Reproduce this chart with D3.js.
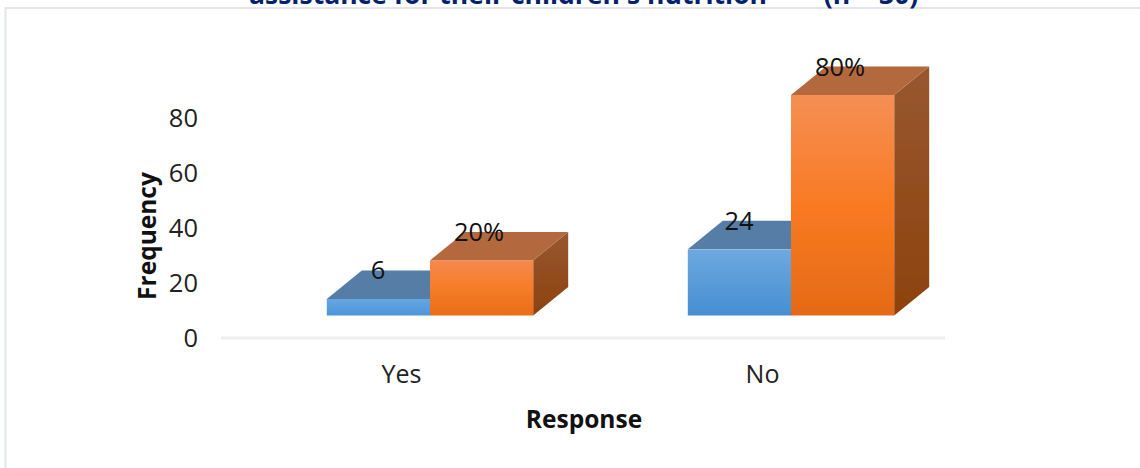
<!DOCTYPE html>
<html><head><meta charset="utf-8">
<script src="https://cdn.jsdelivr.net/npm/d3@7"></script>
<style>html,body{margin:0;padding:0;background:#fff}svg{display:block}text{font-family:"Open Sans",sans-serif}</style>
</head><body><svg id="c" width="1140" height="468"></svg>
<script>
const categories = ["Yes", "No"];
const frequency = [6, 24];
const percent = [20, 80];
const frequencyLabels = ["6", "24"];
const percentLabels = ["20%", "80%"];
const yTicks = [0, 20, 40, 60, 80];
const titleText = "assistance for their children's nutrition";
const titleN = "(n = 30)";

const svg = d3.select("#c");
const W = 1140, H = 468;
const x = d3.scaleBand().domain(categories).range([221, 943]);
const y = d3.scaleLinear().domain([0, 80]).range([338, 117.5]);
const floorDy = -22.5, depthX = 35, depthY = -28.5, barW = 103.2, groupDx = 28.5;

const defs = svg.append("defs");
function grad(id, stops, x2 = 0, y2 = 1) {
  const g = defs.append("linearGradient").attr("id", id).attr("x1", 0).attr("y1", 0).attr("x2", x2).attr("y2", y2);
  stops.forEach(([o, c]) => g.append("stop").attr("offset", o).attr("stop-color", c));
}
grad("blueF", [[0, "#6fa8e0"], [1, "#458fd2"]]);
grad("orangeF", [[0, "#f58f55"], [0.5, "#f97a22"], [1, "#e56a17"]]);
grad("orangeS", [[0, "#97582f"], [1, "#8d420e"]]);
grad("blueSmall", [[0, "#66a6e2"], [1, "#4d96d8"]]);
grad("orangeSmall", [[0, "#f5894e"], [0.5, "#f67c28"], [1, "#e96d19"]]);
const blur = defs.append("filter").attr("id", "soft");
blur.append("feGaussianBlur").attr("stdDeviation", 0.5);

// frame: left and top edges only
svg.append("path").attr("d", `M5.5 ${H}V8H${W}`).attr("fill", "none").attr("stroke", "#e3e5ec").attr("stroke-width", 2);

// title (cropped by the top edge)
svg.append("text").attr("x", 508).attr("y", 4).attr("text-anchor", "middle").attr("font-size", 26.5).attr("font-weight", 700).attr("fill", "#04216b").text(titleText);
svg.append("text").attr("x", 871).attr("y", 4).attr("text-anchor", "middle").attr("font-size", 26.5).attr("font-weight", 700).attr("fill", "#04216b").text(titleN);

// baseline
svg.append("line").attr("x1", 221).attr("x2", 945).attr("y1", y(0)).attr("y2", y(0)).attr("stroke", "#eeeeee").attr("stroke-width", 3);

// value axis, no line
const yAxis = svg.append("g").attr("transform", "translate(198,0.5)").call(d3.axisLeft(y).tickValues(yTicks).tickSize(0).tickPadding(0));
yAxis.select(".domain").remove();
yAxis.selectAll("text").attr("font-size", 25.5).attr("fill", "#222").style("font-family", '"Open Sans",sans-serif');

// category labels
svg.selectAll(".cat").data(categories).join("text").attr("class", "cat")
  .attr("x", d => x(d) + x.bandwidth() / 2).attr("y", 383).attr("text-anchor", "middle")
  .attr("font-size", 25).attr("fill", "#222").text(d => d);

function bar(cat, v, left, front, top, side) {
  const x0 = x(cat) + x.bandwidth() / 2 + groupDx + left * barW, x1 = x0 + barW;
  const y0 = y(0) + floorDy, y1 = y(v) + floorDy;
  const g = svg.append("g").attr("filter", "url(#soft)");
  g.append("path").attr("d", `M${x1} ${y0}L${x1 + depthX} ${y0 + depthY}V${y1 + depthY}L${x1} ${y1}Z`).attr("fill", side);
  g.append("path").attr("d", `M${x0} ${y1}L${x0 + depthX} ${y1 + depthY}H${x1 + depthX}L${x1} ${y1}Z`).attr("fill", top);
  g.append("rect").attr("x", x0).attr("y", y1).attr("width", barW).attr("height", y0 - y1).attr("fill", front);
}
categories.forEach((c, i) => {
  bar(c, frequency[i], -1, i ? "url(#blueF)" : "url(#blueSmall)", "#557da6", "#557da6");
  bar(c, percent[i], 0, i ? "url(#orangeF)" : "url(#orangeSmall)", "#b4673e", "url(#orangeS)");
});

// data labels
const lab = (cat, dx, v, t) => svg.append("text").attr("x", x(cat) + x.bandwidth() / 2 + groupDx + dx)
  .attr("y", y(v) + floorDy + depthY + 9).attr("text-anchor", "middle").attr("font-size", 25.5).attr("fill", "#111").text(t);
categories.forEach((c, i) => {
  lab(c, -52, frequency[i], frequencyLabels[i]);
  lab(c, 49, percent[i], percentLabels[i]);
});

// axis titles
svg.append("text").attr("transform", "translate(156,236) rotate(-90)").attr("text-anchor", "middle")
  .attr("font-size", 24.5).attr("font-weight", 700).attr("fill", "#111").text("Frequency");
svg.append("text").attr("x", 584).attr("y", 428).attr("text-anchor", "middle")
  .attr("font-size", 24.5).attr("font-weight", 700).attr("fill", "#111").text("Response");
</script></body></html>
